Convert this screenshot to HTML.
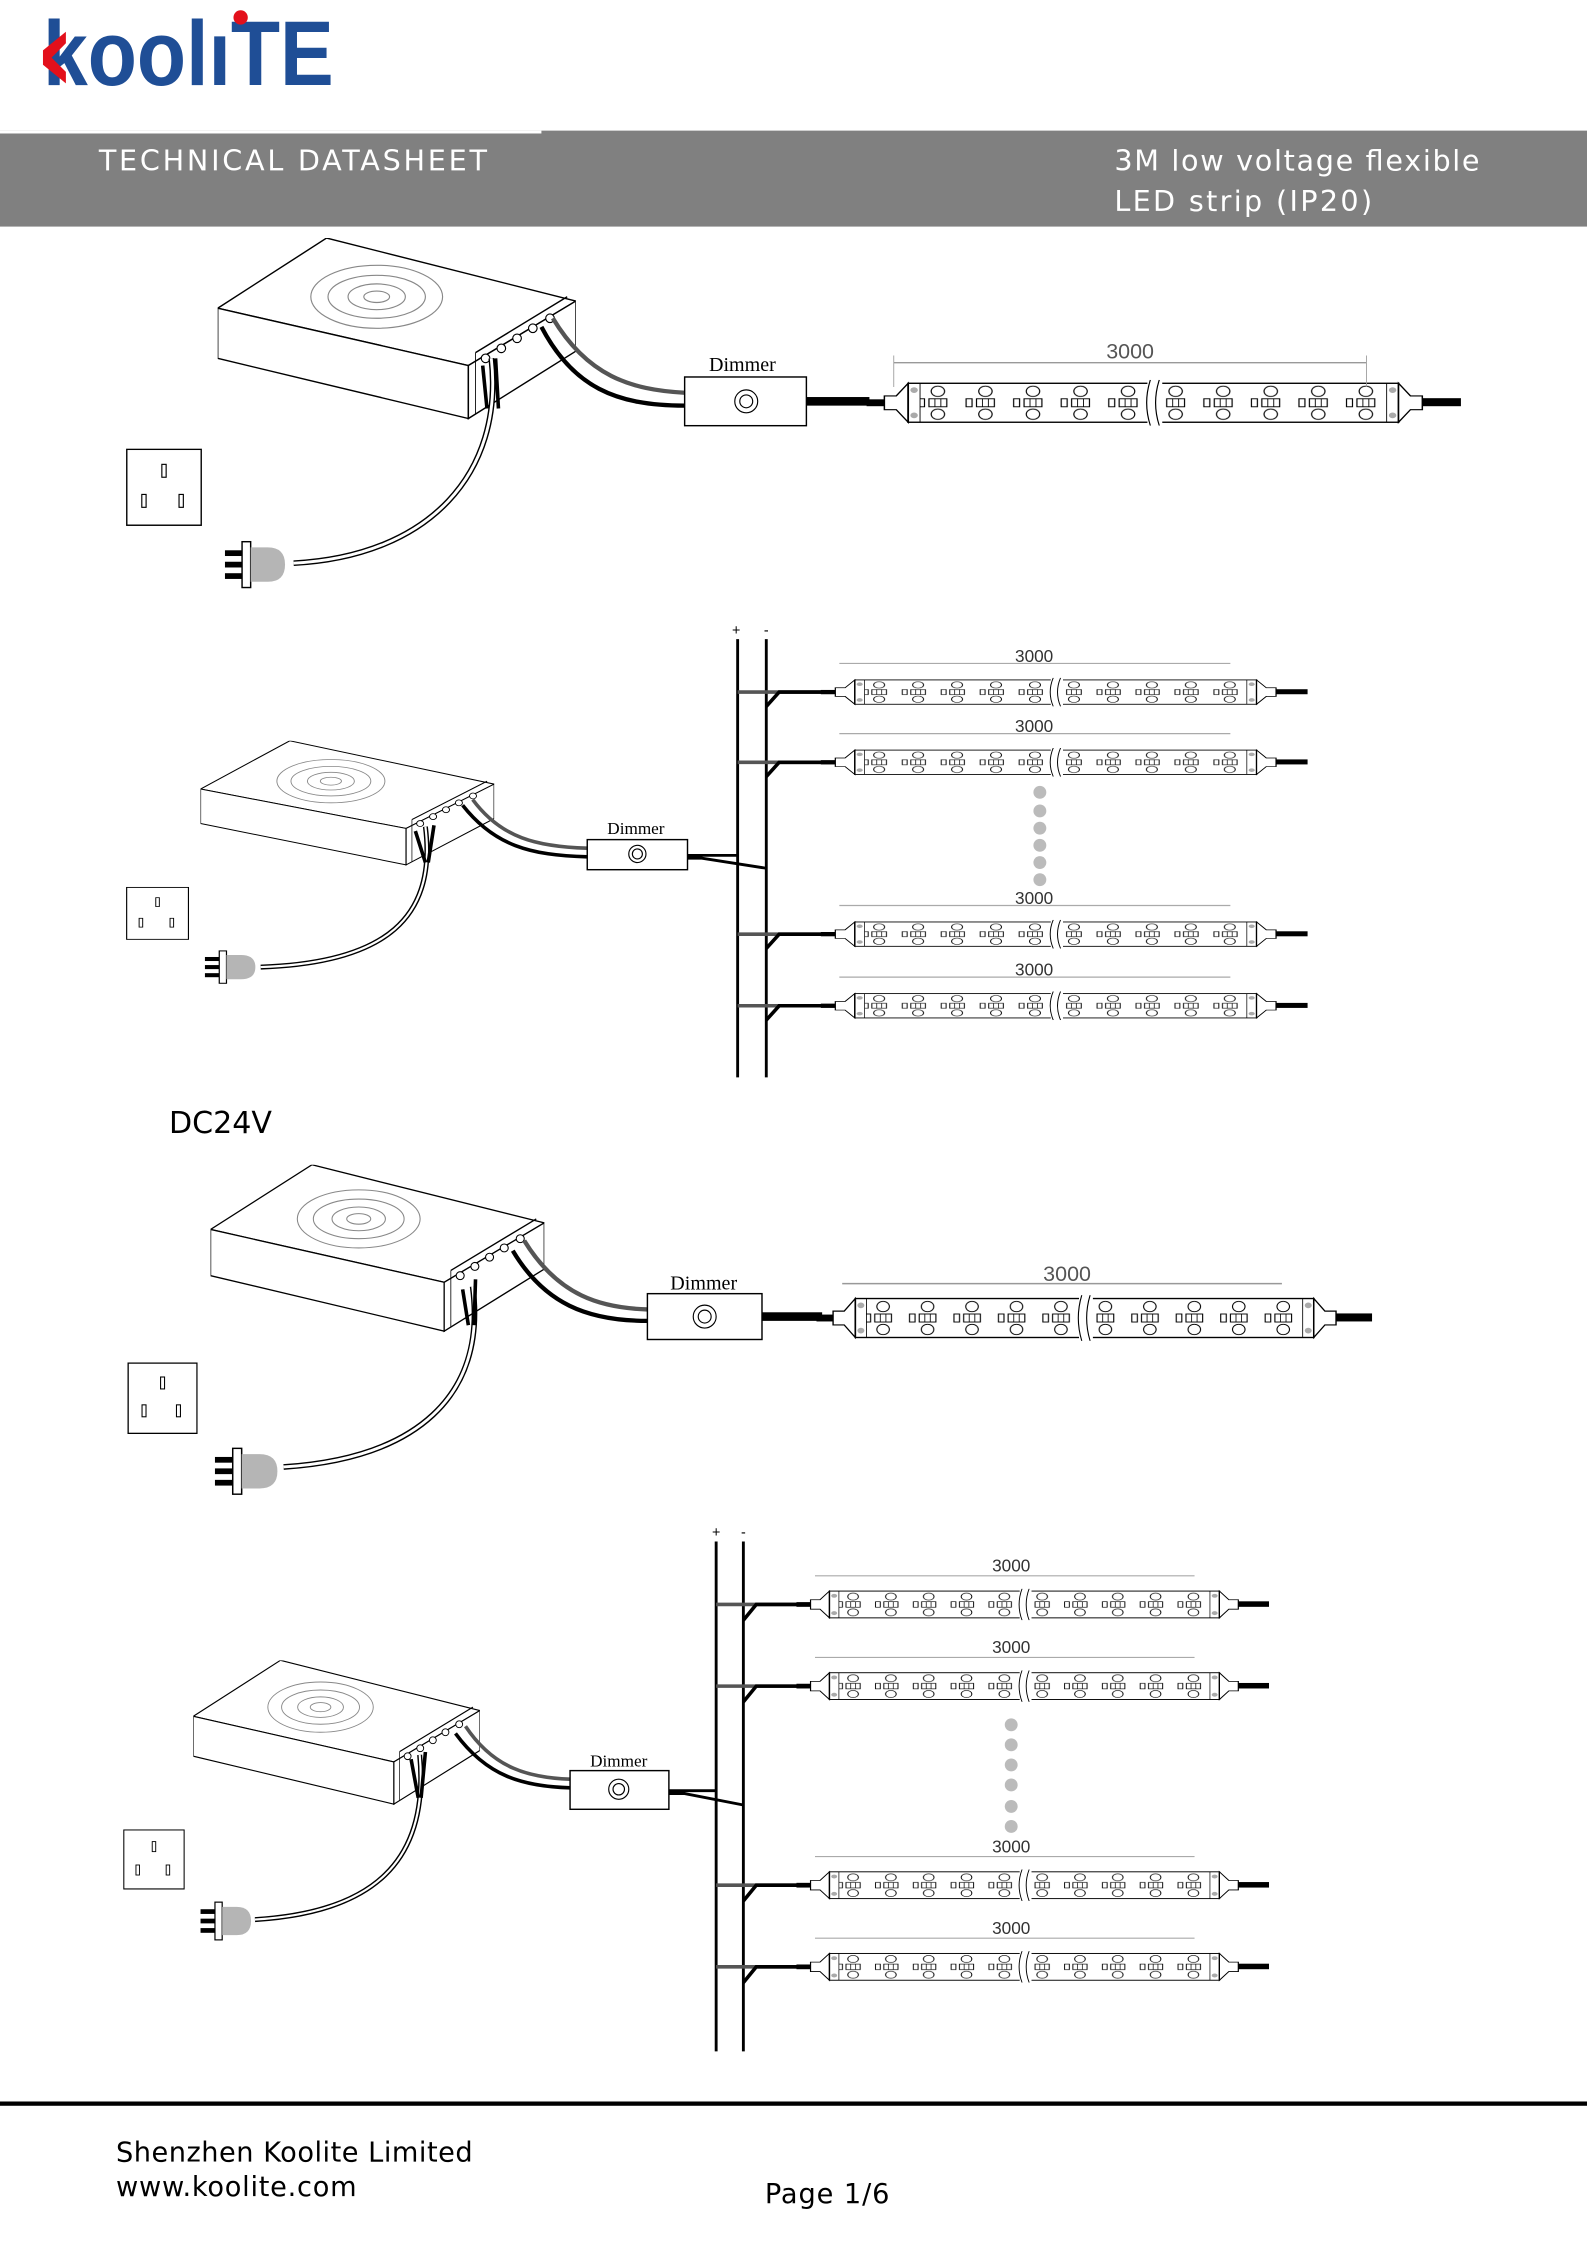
<!DOCTYPE html>
<html><head><meta charset="utf-8"><style>
html,body{margin:0;padding:0;background:#fff}
svg{display:block}
</style></head><body>
<svg width="1587" height="2245" viewBox="0 0 1108 1567" xmlns="http://www.w3.org/2000/svg">
<defs>
<pattern id="led" x="0" y="0" width="32" height="40" patternUnits="userSpaceOnUse">
<circle cx="16" cy="10" r="4.5" fill="#fff" stroke="#000" stroke-width="0.8"/>
<circle cx="16" cy="30" r="4.5" fill="#fff" stroke="#000" stroke-width="0.8"/>
<rect x="3" y="16.5" width="4" height="7" fill="#fff" stroke="#000" stroke-width="0.8"/>
<rect x="10" y="16.5" width="12" height="7" fill="#fff" stroke="#000" stroke-width="0.8"/>
<line x1="14" y1="16.5" x2="14" y2="23.5" stroke="#000" stroke-width="0.6"/>
<line x1="18" y1="16.5" x2="18" y2="23.5" stroke="#000" stroke-width="0.6"/>
</pattern>
<symbol id="strip" viewBox="0 0 400 40" preserveAspectRatio="none">
<rect x="0" y="17" width="12" height="6" fill="#000"/>
<path d="M12,14 L20,14 L28,3 L28,37 L20,26 L12,26 Z" fill="#fff" stroke="#000"/>
<rect x="28" y="3" width="330" height="34" fill="#fff" stroke="#000" stroke-width="1.2"/>
<rect x="36" y="3" width="152" height="34" fill="url(#led)"/>
<rect x="200" y="3" width="152" height="34" fill="url(#led)"/>
<line x1="36" y1="3" x2="36" y2="37" stroke="#000" stroke-width="0.6"/>
<line x1="350" y1="3" x2="350" y2="37" stroke="#000" stroke-width="0.6"/>
<circle cx="32" cy="9" r="2.5" fill="#aaa"/><circle cx="32" cy="31" r="2.5" fill="#aaa"/>
<circle cx="354" cy="9" r="2.5" fill="#aaa"/><circle cx="354" cy="31" r="2.5" fill="#aaa"/>
<rect x="189" y="0" width="10" height="40" fill="#fff"/>
<path d="M191,0 Q186,20 191,40 M197,0 Q192,20 197,40" fill="none" stroke="#000" stroke-width="0.8"/>
<path d="M374,14 L366,14 L358,3 L358,37 L366,26 L374,26 Z" fill="#fff" stroke="#000"/>
<rect x="374" y="16" width="26" height="7" fill="#000"/>
</symbol>
<symbol id="box" viewBox="0 0 250 128" preserveAspectRatio="none">
<polygon points="0,49 76,0 250,44 175,89" fill="#fff" stroke="#000"/>
<polygon points="0,49 175,89 175,126 0,84" fill="#fff" stroke="#000"/>
<polygon points="175,89 250,44 250,79 175,126" fill="#fff" stroke="#000"/>
<line x1="180" y1="80" x2="244" y2="41" stroke="#000"/>
<line x1="180" y1="80" x2="180" y2="123" stroke="#000" stroke-width="0.6"/>
<g fill="none" stroke="#888" stroke-width="0.8">
<ellipse cx="111" cy="41" rx="46" ry="22"/><ellipse cx="111" cy="41" rx="34" ry="15"/>
<ellipse cx="111" cy="41" rx="20" ry="9"/><ellipse cx="111" cy="41" rx="9" ry="4"/></g>
<g fill="#fff" stroke="#000" stroke-width="0.8">
<circle cx="187" cy="84" r="3"/><circle cx="198" cy="77" r="3"/><circle cx="209" cy="70" r="3"/>
<circle cx="220" cy="63" r="3"/><circle cx="232" cy="56" r="3"/></g>
</symbol>
<symbol id="outlet" viewBox="0 0 53 54" preserveAspectRatio="none">
<rect x="0.5" y="0.5" width="52" height="53" fill="#fff" stroke="#000"/>
<rect x="25" y="11" width="3" height="9" fill="none" stroke="#000" stroke-width="0.8"/>
<rect x="11" y="32" width="3" height="9" fill="none" stroke="#000" stroke-width="0.8"/>
<rect x="37" y="32" width="3" height="9" fill="none" stroke="#000" stroke-width="0.8"/>
</symbol>
<symbol id="plug" viewBox="0 0 50 34" preserveAspectRatio="none">
<rect x="0" y="7" width="12" height="4" fill="#000"/><rect x="0" y="15" width="12" height="4" fill="#000"/><rect x="0" y="23" width="12" height="4" fill="#000"/>
<rect x="12" y="1" width="6" height="32" fill="#fff" stroke="#000"/>
<path d="M18,5 L30,5 Q42,5 42,17 Q42,29 30,29 L18,29 Z" fill="#b5b5b5"/>
</symbol>
</defs>

<!-- header -->
<text x="30" y="59" font-family="Liberation Sans,sans-serif" font-weight="bold" font-size="64" fill="#1f4e96" textLength="203" lengthAdjust="spacingAndGlyphs">koolıTE</text>
<polygon points="30,35 46,22 46,30 36,40 46,50 46,58 30,45" fill="#e3101b"/>
<circle cx="168" cy="12" r="5" fill="#e3101b"/>
<rect x="0" y="91" width="1108" height="67" fill="#808080"/>
<rect x="0" y="91" width="378" height="2" fill="#fff"/>
<text x="69" y="119" font-family="DejaVu Sans,sans-serif" font-size="20" fill="#fff" textLength="271">TECHNICAL DATASHEET</text>
<text x="778" y="119" font-family="DejaVu Sans,sans-serif" font-size="20" fill="#fff" textLength="255">3M low voltage flexible</text>
<text x="778" y="147" font-family="DejaVu Sans,sans-serif" font-size="20" fill="#fff" textLength="180">LED strip (IP20)</text>

<!-- diagram 1 -->
<use href="#box" x="152" y="166" width="250" height="128"/>
<path d="M343,250 C352,330 300,388 205,393" fill="none" stroke="#000" stroke-width="4"/>
<path d="M343,250 C352,330 300,388 205,393" fill="none" stroke="#fff" stroke-width="2"/>
<path d="M337,255 L340,285 M346,250 L348,285" stroke="#000" stroke-width="2.5"/>
<path d="M378,228 C400,270 430,283 478,283" fill="none" stroke="#000" stroke-width="3"/>
<path d="M386,222 C410,262 440,272 478,274" fill="none" stroke="#555" stroke-width="3"/>
<rect x="478" y="263" width="85" height="34" fill="#fff" stroke="#000"/>
<circle cx="521" cy="280" r="8" fill="none" stroke="#000" stroke-width="0.8"/><circle cx="521" cy="280" r="4.5" fill="none" stroke="#000" stroke-width="0.8"/>
<text x="495" y="259" font-family="Liberation Serif,serif" font-size="14">Dimmer</text>
<rect x="563" y="277" width="44" height="6" fill="#000"/>
<use href="#strip" x="605" y="265" width="415" height="32"/>
<line x1="624" y1="253" x2="954" y2="253" stroke="#999"/>
<line x1="624" y1="248" x2="624" y2="270" stroke="#999" stroke-width="0.6"/><line x1="954" y1="248" x2="954" y2="270" stroke="#999" stroke-width="0.6"/>
<text x="789" y="250" font-family="Liberation Sans,sans-serif" font-size="15" fill="#555" text-anchor="middle">3000</text>
<use href="#outlet" x="88" y="313" width="53" height="54"/>
<use href="#plug" x="157" y="377" width="50" height="34"/>

<!-- diagram 2 -->
<text x="514" y="443" font-family="Liberation Sans,sans-serif" font-size="10" text-anchor="middle">+</text>
<text x="535" y="443" font-family="Liberation Sans,sans-serif" font-size="10" text-anchor="middle">-</text>
<line x1="515" y1="446" x2="515" y2="752" stroke="#000" stroke-width="2"/>
<line x1="535" y1="446" x2="535" y2="752" stroke="#000" stroke-width="2"/>
<use href="#box" x="140" y="517" width="205" height="88"/>
<path d="M297,577 C305,640 270,672 182,675" fill="none" stroke="#000" stroke-width="3.5"/>
<path d="M297,577 C305,640 270,672 182,675" fill="none" stroke="#fff" stroke-width="1.5"/>
<path d="M290,580 L297,602 M303,576 L299,602" stroke="#000" stroke-width="2.5"/>
<path d="M323,562 C345,590 370,597 410,598" fill="none" stroke="#000" stroke-width="2.5"/>
<path d="M330,558 C350,585 375,591 410,592" fill="none" stroke="#555" stroke-width="2.5"/>
<rect x="410" y="586" width="70" height="21" fill="#fff" stroke="#000"/>
<circle cx="445" cy="596" r="6" fill="none" stroke="#000" stroke-width="0.8"/><circle cx="445" cy="596" r="3.5" fill="none" stroke="#000" stroke-width="0.8"/>
<text x="424" y="582" font-family="Liberation Serif,serif" font-size="12">Dimmer</text>
<path d="M480,597 L515,597 M480,599 L490,599 L535,606" stroke="#000" stroke-width="2" fill="none"/>
<use href="#outlet" x="88" y="619" width="44" height="37"/>
<use href="#plug" x="143" y="663" width="42" height="24"/>
<g id="r2">
<line x1="515" y1="483" x2="585" y2="483" stroke="#555" stroke-width="2.5"/>
<path d="M535,493 L544,483 L585,483" stroke="#000" stroke-width="2.5" fill="none"/>
<use href="#strip" x="573" y="473" width="340" height="20"/>
<line x1="586" y1="463" x2="859" y2="463" stroke="#aaa" stroke-width="0.8"/>
<text x="722" y="462" font-family="Liberation Sans,sans-serif" font-size="12" fill="#333" text-anchor="middle">3000</text>
</g>
<use href="#r2" y="49"/>
<use href="#r2" y="169"/>
<use href="#r2" y="219"/>
<g fill="#bbb"><circle cx="726" cy="553" r="4.5"/><circle cx="726" cy="566" r="4.5"/><circle cx="726" cy="578" r="4.5"/><circle cx="726" cy="590" r="4.5"/><circle cx="726" cy="602" r="4.5"/><circle cx="726" cy="614" r="4.5"/></g>

<text x="118" y="791" font-family="DejaVu Sans,sans-serif" font-size="21">DC24V</text>

<!-- diagram 3 -->
<use href="#box" x="147" y="813" width="233" height="118"/>
<path d="M330,898 C340,975 290,1018 198,1024" fill="none" stroke="#000" stroke-width="4"/>
<path d="M330,898 C340,975 290,1018 198,1024" fill="none" stroke="#fff" stroke-width="2"/>
<path d="M323,900 L327,925 M332,893 L331,925" stroke="#000" stroke-width="2.5"/>
<path d="M358,873 C380,910 410,922 452,922" fill="none" stroke="#000" stroke-width="3"/>
<path d="M366,866 C390,905 420,913 452,914" fill="none" stroke="#555" stroke-width="3"/>
<rect x="452" y="903" width="80" height="32" fill="#fff" stroke="#000"/>
<circle cx="492" cy="919" r="8" fill="none" stroke="#000" stroke-width="0.8"/><circle cx="492" cy="919" r="4.5" fill="none" stroke="#000" stroke-width="0.8"/>
<text x="468" y="900" font-family="Liberation Serif,serif" font-size="14">Dimmer</text>
<rect x="532" y="916" width="42" height="6" fill="#000"/>
<use href="#strip" x="570" y="904" width="388" height="32"/>
<line x1="588" y1="896" x2="895" y2="896" stroke="#999"/>
<text x="745" y="894" font-family="Liberation Sans,sans-serif" font-size="15" fill="#555" text-anchor="middle">3000</text>
<use href="#outlet" x="89" y="951" width="49" height="50"/>
<use href="#plug" x="150" y="1010" width="52" height="34"/>

<!-- diagram 4 -->
<text x="500" y="1073" font-family="Liberation Sans,sans-serif" font-size="10" text-anchor="middle">+</text>
<text x="519" y="1073" font-family="Liberation Sans,sans-serif" font-size="10" text-anchor="middle">-</text>
<line x1="500" y1="1076" x2="500" y2="1432" stroke="#000" stroke-width="2"/>
<line x1="519" y1="1076" x2="519" y2="1432" stroke="#000" stroke-width="2"/>
<use href="#box" x="135" y="1159" width="200" height="102"/>
<path d="M293,1225 C300,1300 260,1335 178,1340" fill="none" stroke="#000" stroke-width="3.5"/>
<path d="M293,1225 C300,1300 260,1335 178,1340" fill="none" stroke="#fff" stroke-width="1.5"/>
<path d="M287,1228 L292,1255 M297,1223 L294,1255" stroke="#000" stroke-width="2.5"/>
<path d="M318,1210 C340,1240 365,1247 398,1248" fill="none" stroke="#000" stroke-width="2.5"/>
<path d="M325,1205 C345,1235 370,1241 398,1242" fill="none" stroke="#555" stroke-width="2.5"/>
<rect x="398" y="1236" width="69" height="27" fill="#fff" stroke="#000"/>
<circle cx="432" cy="1249" r="7" fill="none" stroke="#000" stroke-width="0.8"/><circle cx="432" cy="1249" r="4" fill="none" stroke="#000" stroke-width="0.8"/>
<text x="412" y="1233" font-family="Liberation Serif,serif" font-size="12">Dimmer</text>
<path d="M467,1250 L500,1250 M467,1252 L478,1252 L519,1260" stroke="#000" stroke-width="2" fill="none"/>
<use href="#outlet" x="86" y="1277" width="43" height="42"/>
<use href="#plug" x="140" y="1327" width="42" height="28"/>
<g id="r4">
<line x1="500" y1="1120" x2="570" y2="1120" stroke="#555" stroke-width="2.5"/>
<path d="M519,1131 L528,1120 L570,1120" stroke="#000" stroke-width="2.5" fill="none"/>
<use href="#strip" x="556" y="1109" width="330" height="22"/>
<line x1="569" y1="1100" x2="834" y2="1100" stroke="#aaa" stroke-width="0.8"/>
<text x="706" y="1097" font-family="Liberation Sans,sans-serif" font-size="12" fill="#333" text-anchor="middle">3000</text>
</g>
<use href="#r4" y="57"/>
<use href="#r4" y="196"/>
<use href="#r4" y="253"/>
<g fill="#bbb"><circle cx="706" cy="1204" r="4.5"/><circle cx="706" cy="1218" r="4.5"/><circle cx="706" cy="1232" r="4.5"/><circle cx="706" cy="1246" r="4.5"/><circle cx="706" cy="1261" r="4.5"/><circle cx="706" cy="1275" r="4.5"/></g>

<!-- footer -->
<rect x="0" y="1467" width="1108" height="3" fill="#000"/>
<text x="81" y="1509" font-family="DejaVu Sans,sans-serif" font-size="19" textLength="249">Shenzhen Koolite Limited</text>
<text x="81" y="1533" font-family="DejaVu Sans,sans-serif" font-size="19" textLength="168">www.koolite.com</text>
<text x="534" y="1538" font-family="DejaVu Sans,sans-serif" font-size="19" textLength="87">Page 1/6</text>
</svg>
</body></html>
